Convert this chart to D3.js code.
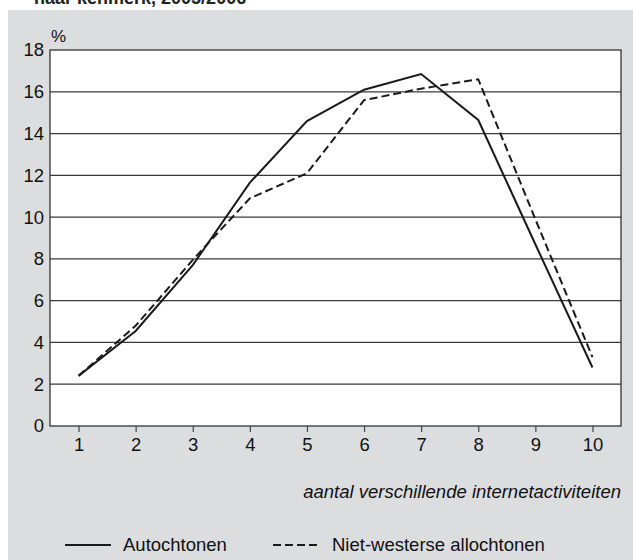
<!DOCTYPE html>
<html><head><meta charset="utf-8">
<script src="https://cdn.jsdelivr.net/npm/d3@7"></script>
<style>body{margin:0;background:#fff}svg{display:block}text{font-family:"Liberation Sans",Arial,sans-serif}</style>
</head><body>
<script>
const categories = [1,2,3,4,5,6,7,8,9,10];
const autochtonen = [2.4,4.55,7.7,11.65,14.6,16.1,16.85,14.65,8.7,2.8];
const nietWesters = [2.4,4.8,7.95,10.9,12.1,15.6,16.15,16.6,9.9,3.3];
const yTicks = [0,2,4,6,8,10,12,14,16,18];
const seriesNames = ["Autochtonen","Niet-westerse allochtonen"];

const W=633,H=560,FS=18.5;
const svg=d3.select("body").append("svg").attr("width",W).attr("height",H);
svg.append("text").attr("x",34).attr("y",4).attr("font-weight","bold").attr("font-size",18).attr("fill","#222").text("naar kenmerk, 2005/2006");
svg.append("rect").attr("x",8).attr("y",10).attr("width",W-8).attr("height",H-10).attr("fill","#dcdddf");

const m={l:50,r:621,t:50,b:426};
const x=d3.scaleLinear().domain([0.5,10.5]).range([m.l,m.r]);
const y=d3.scaleLinear().domain([0,18]).range([m.b,m.t]);

svg.append("rect").attr("x",m.l).attr("y",m.t).attr("width",m.r-m.l).attr("height",m.b-m.t).attr("fill","#fff");

// gridlines
svg.append("g").selectAll("line").data(yTicks.filter(d=>d>0&&d<18)).join("line")
  .attr("x1",m.l).attr("x2",m.r).attr("y1",d=>y(d)).attr("y2",d=>y(d))
  .attr("stroke","#3a3a3a").attr("stroke-width",1.2);

svg.append("rect").attr("x",m.l).attr("y",m.t).attr("width",m.r-m.l).attr("height",m.b-m.t)
  .attr("fill","none").attr("stroke","#333").attr("stroke-width",1.3);

// y axis labels
const yAxis=d3.axisLeft(y).tickValues(yTicks).tickSize(0).tickPadding(6);
const gy=svg.append("g").attr("transform",`translate(${m.l},0)`).call(yAxis);
gy.select(".domain").remove();
gy.attr("font-size",FS).attr("font-family","Liberation Sans, Arial, sans-serif");
gy.selectAll("text").attr("fill","#111");

// x axis
const xAxis=d3.axisBottom(x).tickValues(categories).tickSize(6).tickPadding(6);
const gx=svg.append("g").attr("transform",`translate(0,${m.b})`).call(xAxis);
gx.select(".domain").remove();
gx.attr("font-size",FS).attr("font-family","Liberation Sans, Arial, sans-serif");
gx.selectAll("line").attr("stroke","#444").attr("stroke-width",1.2);
gx.selectAll("text").attr("fill","#111");

svg.append("text").attr("x",m.l+1).attr("y",42).attr("font-size",17).attr("fill","#111").text("%");
svg.append("text").attr("x",m.r).attr("y",498).attr("text-anchor","end").attr("font-size",FS).attr("font-style","italic").attr("fill","#111").text("aantal verschillende internetactiviteiten");

const line=d3.line().x((d,i)=>x(categories[i])).y(d=>y(d));
svg.append("path").datum(autochtonen).attr("d",line).attr("fill","none").attr("stroke","#1a1a1a").attr("stroke-width",2);
svg.append("path").datum(nietWesters).attr("d",line).attr("fill","none").attr("stroke","#1a1a1a").attr("stroke-width",2).attr("stroke-dasharray","8,4");

// legend
const ly=545;
svg.append("line").attr("x1",65).attr("x2",111).attr("y1",ly).attr("y2",ly).attr("stroke","#1a1a1a").attr("stroke-width",2);
svg.append("text").attr("x",123).attr("y",ly+6).attr("font-size",FS).attr("fill","#111").text(seriesNames[0]);
svg.append("line").attr("x1",273).attr("x2",320).attr("y1",ly).attr("y2",ly).attr("stroke","#1a1a1a").attr("stroke-width",2).attr("stroke-dasharray","8,4");
svg.append("text").attr("x",332).attr("y",ly+6).attr("font-size",FS).attr("fill","#111").text(seriesNames[1]);
</script>
</body></html>
